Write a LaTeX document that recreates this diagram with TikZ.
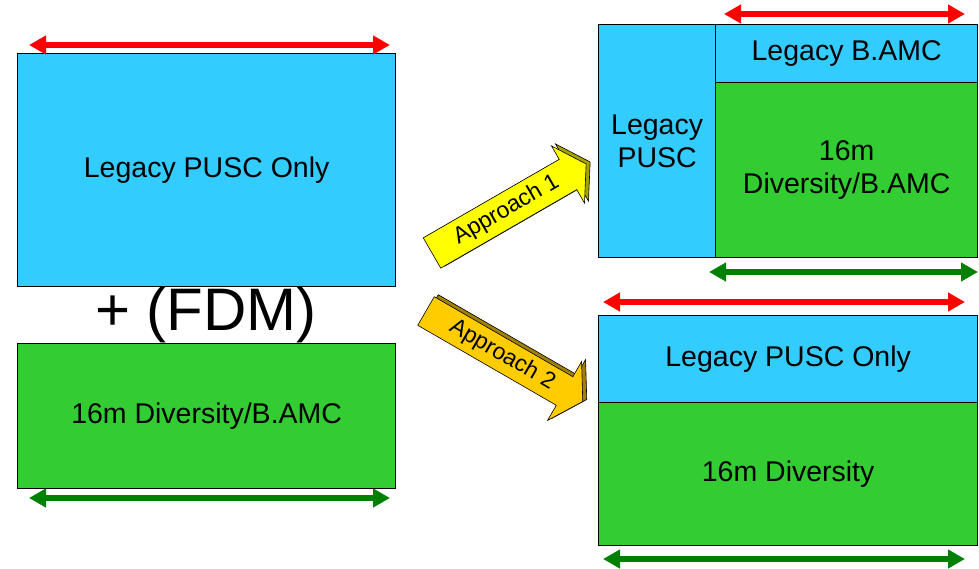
\documentclass[tikz,border=0pt]{standalone}
\usepackage{fontspec}
\setmainfont{Liberation Sans}
\usetikzlibrary{arrows.meta}
\definecolor{lblue}{HTML}{33CCFF}
\definecolor{lgreen}{HTML}{33CC33}
\definecolor{dgreen}{HTML}{008000}
\definecolor{ared}{HTML}{FF0000}
\definecolor{ayellow}{HTML}{FFFF00}
\definecolor{ayellowd}{HTML}{A3A300}
\definecolor{aorange}{HTML}{FFCC00}
\definecolor{aoranged}{HTML}{A08000}
\begin{document}
\begin{tikzpicture}[x=1pt,y=-1pt,
 box/.style={draw=black, line width=1.3pt, anchor=north west, inner sep=0pt, align=center, font=\fontsize{28.5}{33}\selectfont},
 span/.style={line width=6pt, {Triangle[length=17pt,width=18pt]}-{Triangle[length=17pt,width=18pt]}},
 apshape/.style={draw=black, line width=0.6pt, line join=miter},
 aptext/.style={font=\fontsize{23}{23}\selectfont, inner sep=0pt}]
\useasboundingbox (0,0) rectangle (979,569);

% left boxes
\node[box, fill=lblue, minimum width=378pt, minimum height=233pt] (lpusc) at (17,53) {Legacy PUSC Only};
\node[box, fill=lgreen, minimum width=378pt, minimum height=145pt] (ldiv) at (17,343) {16m Diversity/B.AMC};
\node[font=\fontsize{60}{60}\selectfont, inner sep=0pt] (fdm) at (206,315) {+ (FDM)};

% right top
\node[box, fill=lblue, minimum width=117pt, minimum height=233pt] (rpusc) at (598,24) {Legacy\\PUSC};
\node[box, fill=lblue, minimum width=262pt, minimum height=58pt] (rbamc) at (715,24) {Legacy B.AMC};
\node[box, fill=lgreen, minimum width=262pt, minimum height=175pt] (rdivb) at (715,82) {16m\\Diversity/B.AMC};

% right bottom
\node[box, fill=lblue, minimum width=379pt, minimum height=87pt] (rpusc2) at (598,315) {Legacy PUSC Only};
\node[box, fill=lgreen, minimum width=379pt, minimum height=143pt] (rdiv2) at (598,402) {16m Diversity};

% span arrows
\coordinate (r1a) at (29,45);  \coordinate (r1b) at (390,45);
\coordinate (g1a) at (29,498); \coordinate (g1b) at (390,498);
\coordinate (r2a) at (724,14); \coordinate (r2b) at (965,14);
\coordinate (g2a) at (709,272); \coordinate (g2b) at (978,272);
\coordinate (r3a) at (603,302); \coordinate (r3b) at (965,302);
\coordinate (g3a) at (603,559); \coordinate (g3b) at (965,559);
\draw[span, draw=ared, fill=ared] (r1a) -- (r1b);
\draw[span, draw=dgreen, fill=dgreen] (g1a) -- (g1b);
\draw[span, draw=ared, fill=ared] (r2a) -- (r2b);
\draw[span, draw=dgreen, fill=dgreen] (g2a) -- (g2b);
\draw[span, draw=ared, fill=ared] (r3a) -- (r3b);
\draw[span, draw=dgreen, fill=dgreen] (g3a) -- (g3b);

% Approach 1
\begin{scope}[shift={(436,251)}, rotate=30]
  \draw[apshape, fill=ayellowd] (0,-17.5) -- (157,-17.5) -- (157,-33) -- (178,0) -- (157,33) -- (157,17.5) -- (0,17.5) -- cycle;
\end{scope}
\begin{scope}[shift={(432,253)}, rotate=30]
  \draw[apshape, fill=ayellow] (0,-17.5) -- (157,-17.5) -- (157,-33) -- (178,0) -- (157,33) -- (157,17.5) -- (0,17.5) -- cycle;
  \node[aptext, rotate=30] (ap1) at (86,0) {Approach 1};
\end{scope}

% Approach 2
\begin{scope}[shift={(430,309)}, rotate=-30]
  \draw[apshape, fill=aoranged] (0,-16.5) -- (160,-16.5) -- (160,-34) -- (181,0) -- (160,34) -- (160,16.5) -- (0,16.5) -- cycle;
\end{scope}
\begin{scope}[shift={(426,311)}, rotate=-30]
  \draw[apshape, fill=aorange] (0,-16.5) -- (160,-16.5) -- (160,-34) -- (181,0) -- (160,34) -- (160,16.5) -- (0,16.5) -- cycle;
  \node[aptext, rotate=-30] (ap2) at (88,0) {Approach 2};
\end{scope}
\end{tikzpicture}
\end{document}
